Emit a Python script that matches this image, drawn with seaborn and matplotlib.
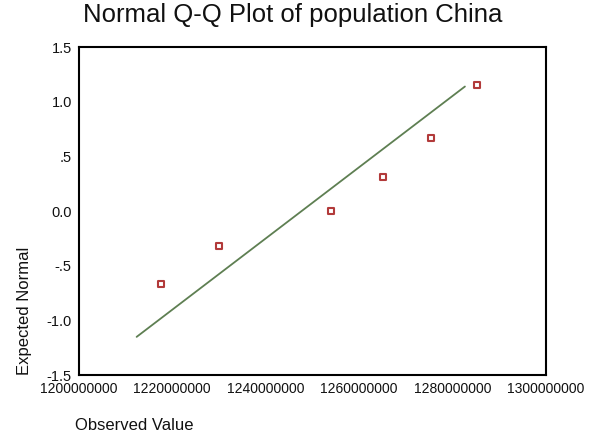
import matplotlib
matplotlib.use('Agg')
import matplotlib.pyplot as plt
import seaborn as sns
import pandas as pd

# Observed population values and their expected normal scores
observed = [1217600000, 1230000000, 1254000000, 1265100000, 1275400000, 1285200000]
expected = [-0.67, -0.32, 0.0, 0.31, 0.67, 1.15]

# Reference line endpoints
line_x = [1212400000, 1282700000]
line_y = [-1.15, 1.14]

x_ticks = [1200000000, 1220000000, 1240000000, 1260000000, 1280000000, 1300000000]
y_ticks = [1.5, 1.0, 0.5, 0.0, -0.5, -1.0, -1.5]
y_tick_labels = ['1.5', '1.0', '.5', '0.0', '-.5', '-1.0', '-1.5']

sns.set_style('white')
plt.rcParams['font.family'] = ['Liberation Sans', 'DejaVu Sans']
plt.rcParams['text.color'] = '#111111'
plt.rcParams['axes.labelcolor'] = '#111111'
plt.rcParams['xtick.color'] = '#111111'
plt.rcParams['ytick.color'] = '#111111'

points = pd.DataFrame({'observed': observed, 'expected': expected})
ref = pd.DataFrame({'x': line_x, 'y': line_y})

fig = plt.figure(figsize=(6.01, 4.45), dpi=100)
ax = fig.add_axes([0.131, 0.157, 0.777, 0.737])

sns.lineplot(data=ref, x='x', y='y', ax=ax, color='#5e7f52', linewidth=1.3)
sns.scatterplot(data=points, x='observed', y='expected', ax=ax, marker='s', s=22,
                facecolor='white', edgecolor='#b23a3a', linewidth=1.5, zorder=3)

ax.set_xlim(1200000000, 1300000000)
ax.set_ylim(-1.5, 1.5)
ax.set_xticks(x_ticks)
ax.set_xticklabels([str(v) for v in x_ticks], fontsize=10)
ax.set_yticks(y_ticks)
ax.set_yticklabels(y_tick_labels, fontsize=10.5)
ax.tick_params(axis='both', direction='out', length=2, width=1.5, pad=3)

for s in ax.spines.values():
    s.set_color('black')
    s.set_linewidth(1.5)

ax.set_xlabel('')
ax.set_ylabel('Expected Normal', fontsize=12, loc='bottom')
ax.yaxis.set_label_coords(-0.1, 0.0)

fig.text(0.125, 0.027, 'Observed Value', fontsize=12, ha='left', va='bottom')
fig.text(0.487, 0.94, 'Normal Q-Q Plot of population China', fontsize=18.5, ha='center', va='bottom')

fig.savefig('out.png', dpi=100)
